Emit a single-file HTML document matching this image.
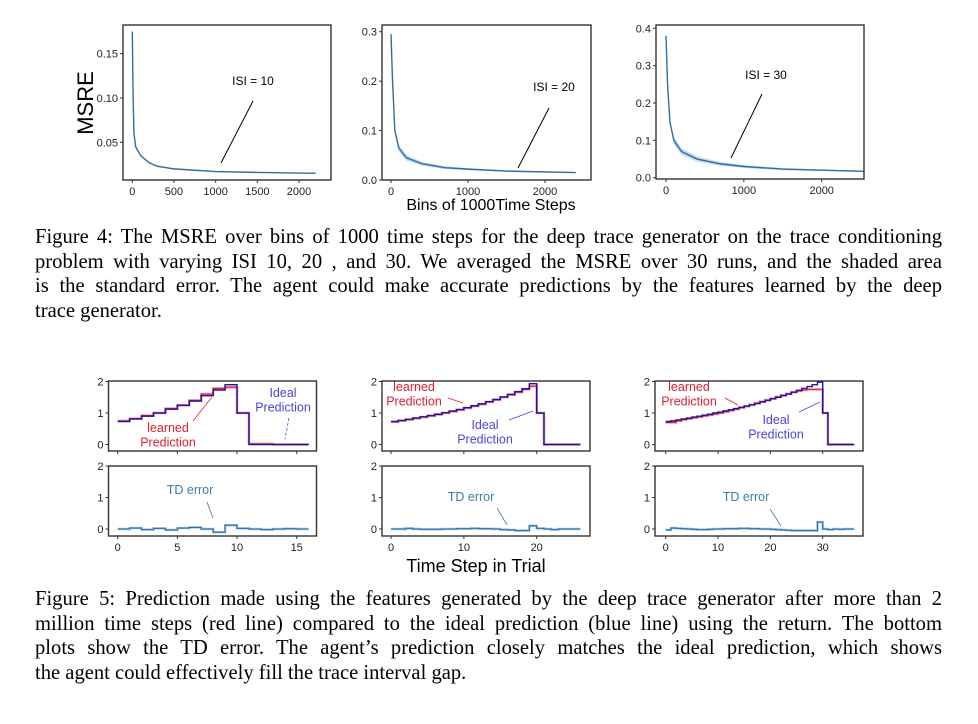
<!DOCTYPE html>
<html><head><meta charset="utf-8"><style>
body{margin:0;background:#fff;width:978px;height:724px;overflow:hidden;position:relative}
svg{position:absolute;left:0;top:0}
.cap{position:absolute;left:35px;width:907px;font-family:"Liberation Serif",serif;font-size:20.6px;line-height:24.7px;color:#000}
.cap span{display:block;text-align:justify;text-align-last:justify;white-space:nowrap}
.cap span.last{text-align-last:left}
</style></head><body>
<svg id="fig" width="978" height="724" xmlns="http://www.w3.org/2000/svg" font-family="Liberation Sans, sans-serif"></svg>
<div class="cap" style="top:225px"><span>Figure 4: The MSRE over bins of 1000 time steps for the deep trace generator on the trace conditioning</span><span>problem with varying ISI 10, 20 , and 30. We averaged the MSRE over 30 runs, and the shaded area</span><span>is the standard error. The agent could make accurate predictions by the features learned by the deep</span><span class="last">trace generator.</span></div>
<div class="cap" style="top:587px"><span>Figure 5: Prediction made using the features generated by the deep trace generator after more than 2</span><span>million time steps (red line) compared to the ideal prediction (blue line) using the return. The bottom</span><span>plots show the TD error. The agent’s prediction closely matches the ideal prediction, which shows</span><span class="last">the agent could effectively fill the trace interval gap.</span></div>
<script>
// ---- MSRE data ----
const msreX1=[0,10,20,40,100,200,300,500,1000,1500,2200];
const msreY1=[0.175,0.1,0.06,0.045,0.035,0.027,0.023,0.02,0.017,0.016,0.015];
const msreE1=[0.001,0.001,0.001,0.001,0.001,0.001,0.001,0.0008,0.0006,0.0005,0.0005];
const msreX2=[0,20,50,100,200,400,700,1000,1500,2400];
const msreY2=[0.295,0.2,0.1,0.065,0.045,0.033,0.025,0.022,0.018,0.015];
const msreE2=[0.003,0.004,0.006,0.007,0.006,0.004,0.003,0.002,0.0015,0.001];
const msreX3=[0,20,50,100,200,400,700,1000,1500,2000,2550];
const msreY3=[0.38,0.25,0.15,0.1,0.07,0.05,0.037,0.03,0.023,0.02,0.017];
const msreE3=[0.004,0.006,0.008,0.01,0.009,0.007,0.005,0.004,0.003,0.002,0.002];
const msreYT1=[0.05,0.10,0.15], msreXT1=[0,500,1000,1500,2000];
const msreYT2=[0.0,0.1,0.2,0.3], msreXT2=[0,1000,2000];
const msreYT3=[0.0,0.1,0.2,0.3,0.4], msreXT3=[0,1000,2000];
// ---- Prediction data ----
const ideal1=[0.73,0.81,0.90,1.0,1.12,1.24,1.38,1.55,1.73,1.9,1.0,0,0,0,0,0];
const learn1=[0.75,0.82,0.92,1.0,1.14,1.25,1.40,1.6,1.78,1.82,1.0,0.02,0.02,0,0,0];
const td1=[0,0.03,-0.02,0.02,-0.03,0.03,0.05,0.0,-0.1,0.12,0.02,0,-0.02,0,0.01,0];
const ideal2=[0.73,0.76,0.80,0.84,0.88,0.92,0.96,1.01,1.06,1.11,1.17,1.23,1.29,1.36,1.43,1.51,1.59,1.68,1.77,1.93,1.0,0,0,0,0,0];
const learn2=[0.72,0.76,0.79,0.83,0.87,0.91,0.95,1.0,1.05,1.10,1.16,1.22,1.28,1.35,1.42,1.50,1.58,1.66,1.75,1.85,1.0,0,0,0,0,0];
const td2=[0,0,0.02,0,-0.01,-0.01,-0.01,0,0,0.01,0.01,0.02,0.01,0.01,0,-0.02,-0.03,-0.05,-0.05,0.1,0.02,0,-0.02,0,0,0];
const ideal3=[0.73,0.75,0.78,0.81,0.84,0.87,0.90,0.93,0.96,1.0,1.03,1.07,1.10,1.14,1.18,1.22,1.26,1.30,1.35,1.40,1.45,1.50,1.55,1.60,1.66,1.72,1.78,1.84,1.90,1.98,1.0,0,0,0,0,0];
const learn3=[0.70,0.70,0.75,0.79,0.82,0.85,0.88,0.91,0.94,0.97,1.00,1.04,1.08,1.12,1.17,1.21,1.26,1.31,1.36,1.41,1.46,1.51,1.56,1.61,1.66,1.70,1.73,1.75,1.75,1.75,1.0,0,0,0,0,0];
const td3=[-0.03,0.03,0.02,0.01,0,-0.01,-0.02,-0.02,-0.01,0,0,0.01,0.01,0.01,0.02,0.02,0.01,0.01,0,0,-0.01,-0.02,-0.03,-0.04,-0.05,-0.05,-0.05,-0.05,-0.05,0.22,0,-0.02,0,-0.01,0,0];
const predYT=[0,1,2];
const predXT1=[0,5,10,15], predXT2=[0,10,20], predXT3=[0,10,20,30];

const svg=document.getElementById('fig');
const NS='http://www.w3.org/2000/svg';
function mk(tag,attrs,parent){const e=document.createElementNS(NS,tag);for(const k in attrs)e.setAttribute(k,attrs[k]);(parent||svg).appendChild(e);return e;}
function lin(d0,d1,p0,p1){return v=>p0+(v-d0)*(p1-p0)/(d1-d0);}
function txt(x,y,s,size,fill,anchor,name,g){const t=mk('text',{x:x,y:y,'font-size':size,fill:fill,'text-anchor':anchor||'middle'},g);t.textContent=s;

return t;}

function axes(g,box,sx,sy,xt,yt,fmt,showXLabels){
  mk('rect',{x:box[0],y:box[1],width:box[2]-box[0],height:box[3]-box[1],fill:'none',stroke:'#333','stroke-width':1.4},g);
  yt.forEach(v=>{const y=sy(v);mk('line',{x1:box[0]-3,x2:box[0],y1:y,y2:y,stroke:'#333'},g);
    txt(box[0]-5,y+4,fmt(v),11,'#222','end','y-tick-label',g);});
  xt.forEach(v=>{const x=sx(v);mk('line',{x1:x,x2:x,y1:box[3],y2:box[3]+3,stroke:'#333'},g);
    if(showXLabels)txt(x,box[3]+15,String(v),11,'#222','middle','x-tick-label',g);});
}

function msre(name,box,xd,yd,X,Y,E,xt,yt,fmt,label,lx,ly,l){
  const g=mk('g',{});
  
  
  const sx=lin(xd[0],xd[1],xd[2],xd[3]), sy=lin(yd[0],yd[1],yd[2],yd[3]);
  let up=X.map((x,i)=>sx(x)+','+sy(Y[i]+E[i])), dn=X.map((x,i)=>sx(x)+','+sy(Y[i]-E[i])).reverse();
  const band=mk('polygon',{points:up.concat(dn).join(' '),fill:'#9cc3e6',opacity:0.6},g);
  
  
  const ln=mk('polyline',{points:X.map((x,i)=>sx(x)+','+sy(Y[i])).join(' '),fill:'none',stroke:'#2f6ea5','stroke-width':1.4},g);
  
  
  axes(g,box,sx,sy,xt,yt,fmt,true);
  txt(lx,ly,label,12,'#000','middle','isi-label',g);
  mk('line',{x1:l[0],y1:l[1],x2:l[2],y2:l[3],stroke:'#000','stroke-width':1},g);
}
msre('msre-chart-isi10',[123,25,331,180],[0,2000,132.3,299],[0.05,0.15,142.3,53.7],msreX1,msreY1,msreE1,msreXT1,msreYT1,v=>v.toFixed(2),'ISI = 10',253,85,[221,163,253,101]);
msre('msre-chart-isi20',[382,25,591,180],[0,1000,391,468],[0,0.3,180,31.7],msreX2,msreY2,msreE2,msreXT2,msreYT2,v=>v.toFixed(1),'ISI = 20',554,91,[518,168,549,108]);
msre('msre-chart-isi30',[656,25,864,179],[0,2000,666,821.7],[0,0.4,177.7,28.3],msreX3,msreY3,msreE3,msreXT3,msreYT3,v=>v.toFixed(1),'ISI = 30',766,79,[731,158,762,94]);
const yl=txt(0,0,'MSRE',22,'#000','middle','y-axis-title');yl.setAttribute('transform','translate(93,103) rotate(-90)');
txt(491,210,'Bins of 1000Time Steps',16,'#000','middle','x-axis-title-top');

function steps(vals,sx,sy){let p=[];vals.forEach((v,i)=>{p.push(sx(i)+','+sy(v));p.push(sx(i+1)+','+sy(v));});return p.join(' ');}
function pred(name,bx,xd,ideal,learn,td,xt,ann){
  const g=mk('g',{});
  
  
  const sx=lin(xd[0],xd[1],xd[2],xd[3]);
  const syT=lin(0,2,444.5,381.5), syB=lin(0,2,529,466);
  const lp=mk('polyline',{points:steps(learn,sx,syT),fill:'none',stroke:'#f07080','stroke-width':2.6,opacity:0.7},g);
  
  const lr=mk('polyline',{points:steps(learn,sx,syT),fill:'none',stroke:'#e02030','stroke-width':1.1},g);
  
  const ip=mk('polyline',{points:steps(ideal,sx,syT),fill:'none',stroke:'#1a14a0','stroke-width':1.4},g);
  
  const tg=mk('polyline',{points:steps(td,sx,syB),fill:'none',stroke:'#9cc3e6','stroke-width':2.4},g);
  
  const tl=mk('polyline',{points:steps(td,sx,syB),fill:'none',stroke:'#2f6ea5','stroke-width':1.1},g);
  
  axes(g,[bx[0],381,bx[1],451],sx,syT,xt,predYT,v=>String(v),false);
  axes(g,[bx[0],466,bx[1],536],sx,syB,xt,predYT,v=>String(v),true);
  const r='#e02030',b='#4a44d8',t='#3a7ea8';
  txt(ann.l[0],ann.l[1],'learned',12.5,r,'middle','learned-label',g);txt(ann.l[0],ann.l[1]+14.5,'Prediction',12.5,r,'middle','learned-label',g);
  mk('line',{x1:ann.ll[0],y1:ann.ll[1],x2:ann.ll[2],y2:ann.ll[3],stroke:r,'stroke-width':0.8},g);
  txt(ann.i[0],ann.i[1],'Ideal',12.5,b,'middle','ideal-label',g);txt(ann.i[0],ann.i[1]+14.5,'Prediction',12.5,b,'middle','ideal-label',g);
  mk('line',{x1:ann.il[0],y1:ann.il[1],x2:ann.il[2],y2:ann.il[3],stroke:b,'stroke-width':0.8,'stroke-dasharray':ann.dash||'none'},g);
  txt(ann.t[0],ann.t[1],'TD error',12.5,t,'middle','td-error-label',g);
  mk('line',{x1:ann.tl[0],y1:ann.tl[1],x2:ann.tl[2],y2:ann.tl[3],stroke:t,'stroke-width':0.8},g);
}
pred('prediction-chart-isi10',[108.5,316.5],[0,15,117.7,296.7],ideal1,learn1,td1,predXT1,
 {l:[168,432],ll:[193,421,212,397],i:[283,397],il:[289,418,285,439],dash:'3,2',t:[190,494],tl:[207,502,213,518]});
pred('prediction-chart-isi20',[382,590],[0,20,391,536.7],ideal2,learn2,td2,predXT2,
 {l:[414,391],ll:[448,398,463,403],i:[485,429],il:[509,420,533,411],t:[471,501],tl:[497,508,507,525]});
pred('prediction-chart-isi30',[655,863],[0,30,665.7,822.7],ideal3,learn3,td3,predXT3,
 {l:[689,391],ll:[725,398,738,405],i:[776,424],il:[799,412,820,402],t:[746,501],tl:[770,509,781,526]});
txt(476,572,'Time Step in Trial',18,'#000','middle','x-axis-title-bottom');
</script>
</body></html>
